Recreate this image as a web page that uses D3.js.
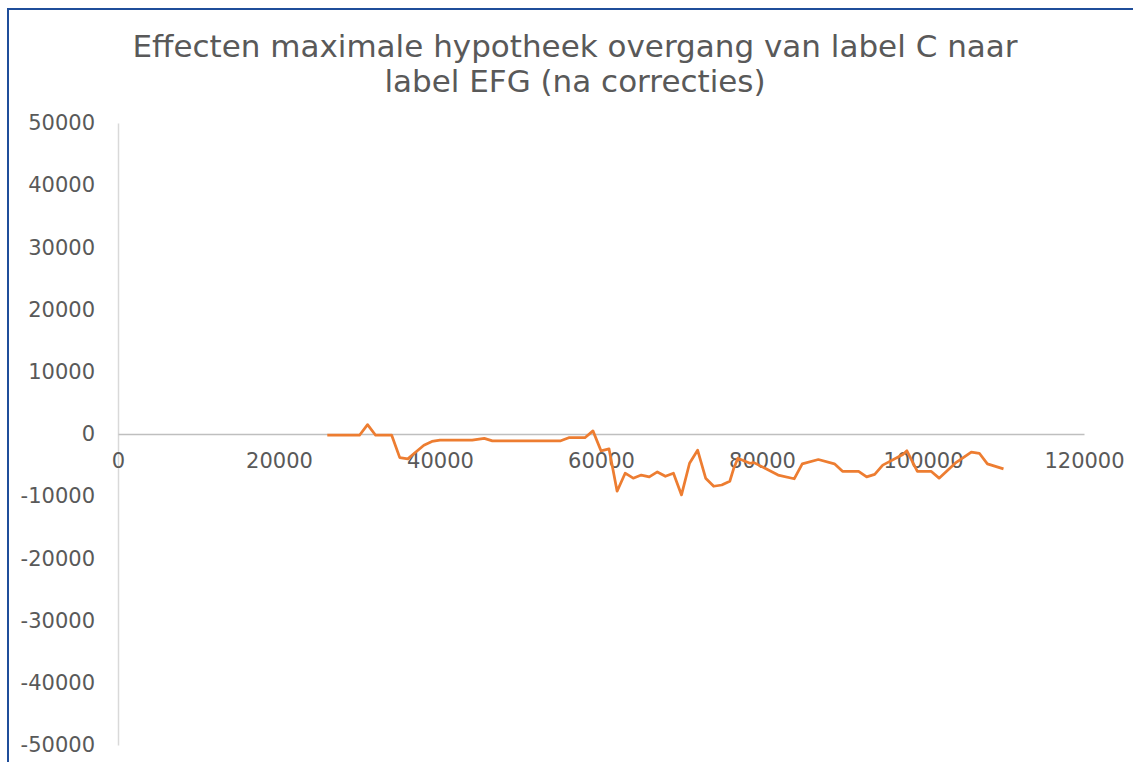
<!DOCTYPE html>
<html><head><meta charset="utf-8">
<script src="https://cdn.jsdelivr.net/npm/d3@7"></script>
<style>html,body{margin:0;padding:0;background:#fff;overflow:hidden}</style>
</head><body>
<script>
const titleLines = ["Effecten maximale hypotheek overgang van label C naar", "label EFG (na correcties)"];
const xTicks = [0, 20000, 40000, 60000, 80000, 100000, 120000];
const yTicks = [50000, 40000, 30000, 20000, 10000, 0, -10000, -20000, -30000, -40000, -50000];
const xValues = [26000,30000,31000,32000,34000,35000,36000,37000,38000,39000,40000,44000,45500,46500,55000,56000,58000,59000,60000,61000,62000,63000,64000,65000,66000,67000,68000,69000,70000,71000,72000,73000,74000,75000,76000,76500,77000,78500,79000,80500,82000,84000,85000,87000,89000,90000,92000,93000,94000,95000,97500,98000,99300,101000,102000,104000,106000,107000,108000,110000];
const yValues = [-200,-200,1500,-200,-200,-3800,-4000,-2900,-1800,-1200,-1000,-1000,-700,-1100,-1100,-600,-600,500,-2700,-2400,-9200,-6300,-7100,-6600,-6900,-6100,-6800,-6300,-9800,-4700,-2600,-7100,-8400,-8200,-7600,-5500,-3900,-4700,-4600,-5600,-6600,-7200,-4800,-4100,-4800,-6000,-6000,-6900,-6500,-5000,-3300,-2700,-6000,-6000,-7100,-4700,-2900,-3100,-4800,-5600];

const W = 1133, H = 762;
const svg = d3.select("body").append("svg").attr("width", W).attr("height", H);
const font = "Verdana, 'DejaVu Sans', sans-serif";
const textColor = "#595959";
const fmt = d => String(d); // plain hyphen-minus

// chart border
svg.append("rect").attr("x", 8).attr("y", 9).attr("width", W + 50).attr("height", H + 50)
  .attr("fill", "#fff").attr("stroke", "#1F4E9A").attr("stroke-width", 2);

const x = d3.scaleLinear().domain([0, 120000]).range([118, 1084]);
const y = d3.scaleLinear().domain([-50000, 50000]).range([745, 123]);

// title
const title = svg.append("text").attr("text-anchor", "middle").attr("fill", textColor)
  .attr("font-family", font).attr("font-size", 31);
titleLines.forEach((t, i) => {
  title.append("tspan").attr("x", 575).attr("y", 57 + i * 35).text(t);
});

// y axis
const yAxis = svg.append("g").attr("transform", `translate(${x(0)},0)`)
  .call(d3.axisLeft(y).tickValues(yTicks).tickSize(0).tickPadding(23).tickFormat(fmt));
yAxis.select(".domain").attr("stroke", "#d9d9d9").attr("stroke-width", 1.5);
yAxis.selectAll("text").attr("fill", textColor).attr("font-family", font).attr("font-size", 21);

// x axis (at y=0)
const xAxis = svg.append("g").attr("transform", `translate(0,${y(0)})`)
  .call(d3.axisBottom(x).tickValues(xTicks).tickSize(0).tickPadding(19).tickFormat(fmt));
xAxis.select(".domain").attr("stroke", "#bfbfbf").attr("stroke-width", 1.5);
xAxis.selectAll("text").attr("fill", textColor).attr("font-family", font).attr("font-size", 21);

// line
const data = xValues.map((v, i) => [v, yValues[i]]);
svg.append("path").datum(data)
  .attr("fill", "none").attr("stroke", "#ED7D31").attr("stroke-width", 2.75)
  .attr("stroke-linejoin", "round")
  .attr("d", d3.line().x(d => x(d[0])).y(d => y(d[1])));
</script>
</body></html>
